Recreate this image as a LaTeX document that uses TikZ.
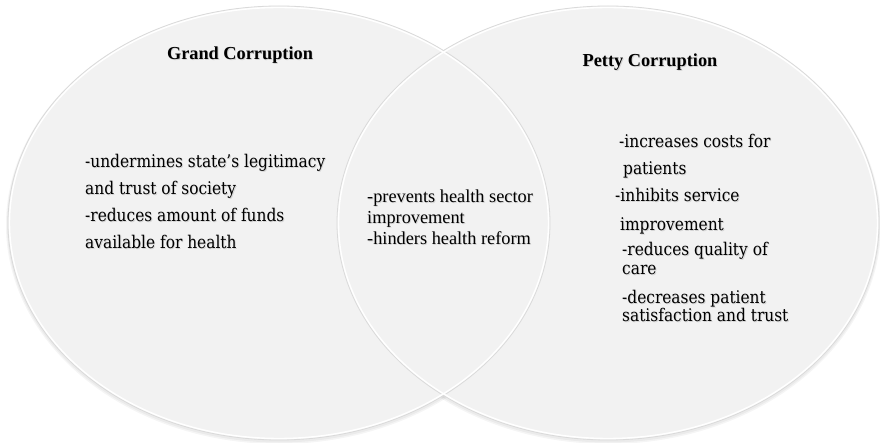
\documentclass[tikz,border=0pt]{standalone}
\usepackage{fontspec}
\setmainfont{Liberation Serif}
\newfontfamily\bodyfont[FakeStretch=0.88]{DejaVu Serif}
\definecolor{discfill}{RGB}{242,242,242}
\definecolor{discrim}{RGB}{218,218,218}
\definecolor{textshade}{RGB}{212,212,212}
% text with a faint drop shade behind it
\newcommand\shadedtext[1]{\rlap{\color{textshade}\raisebox{-0.9pt}{\hspace{0.9pt}#1}}#1}
\begin{document}
\begin{tikzpicture}[x=1pt,y=-1pt,
  disc/.style={fill=discfill},
  discedge/.style={draw=discrim,line width=0.8pt},
  discglow/.style={draw=white,line width=1.4pt},
  title/.style={font=\fontsize{18.3}{20}\selectfont\bfseries,anchor=base,inner sep=0pt},
  body/.style={font=\bodyfont\fontsize{17.5}{20}\selectfont,anchor=base west,inner sep=0pt,text=black},
  mid/.style={font=\fontsize{18.3}{20}\selectfont,anchor=base west,inner sep=0pt}]
\useasboundingbox (0,0) rectangle (880,443);
\fill[white] (0,0) rectangle (880,443);

% soft shadows under the two discs
\foreach \c in {(279,223),(608,223)}{
  \fill[black,opacity=0.04] \c ++(0,2) ellipse [x radius=273, y radius=219];
  \fill[black,opacity=0.04] \c ++(0,1.5) ellipse [x radius=272, y radius=218];
}
% the two discs
\path[disc] (279,223) ellipse [x radius=271, y radius=217];
\path[disc] (608,223) ellipse [x radius=271, y radius=217];
% outlines of both discs, visible through the overlap
\draw[discedge] (279,223) ellipse [x radius=271, y radius=217];
\draw[discedge] (608,223) ellipse [x radius=271, y radius=217];
\draw[discglow] (279,223) ellipse [x radius=269.5, y radius=215.5];
\draw[discglow] (608,223) ellipse [x radius=269.5, y radius=215.5];

% headings
\node[title] (grand) at (240,60) {\shadedtext{Grand Corruption}};
\node[title] (petty) at (650,67) {\shadedtext{Petty Corruption}};

% grand corruption effects
\node[body] (g1) at (85,168) {\shadedtext{-undermines state’s legitimacy}};
\node[body] (g2) at (85,195) {\shadedtext{and trust of society}};
\node[body] (g3) at (85,222) {\shadedtext{-reduces amount of funds}};
\node[body] (g4) at (85,249) {\shadedtext{available for health}};

% shared effects
\node[mid] (s1) at (367,203) {\shadedtext{-prevents health sector}};
\node[mid] (s2) at (367,224) {\shadedtext{improvement}};
\node[mid] (s3) at (367,245) {\shadedtext{-hinders health reform}};

% petty corruption effects
\node[body] (p1) at (619,148) {\shadedtext{-increases costs for}};
\node[body] (p2) at (623,175) {\shadedtext{patients}};
\node[body] (p3) at (615,202) {\shadedtext{-inhibits service}};
\node[body] (p4) at (620,231) {\shadedtext{improvement}};
\node[body] (p5) at (622,256) {\shadedtext{-reduces quality of}};
\node[body] (p6) at (622,275) {\shadedtext{care}};
\node[body] (p7) at (622,304) {\shadedtext{-decreases patient}};
\node[body] (p8) at (622,322) {\shadedtext{satisfaction and trust}};
\end{tikzpicture}
\end{document}
